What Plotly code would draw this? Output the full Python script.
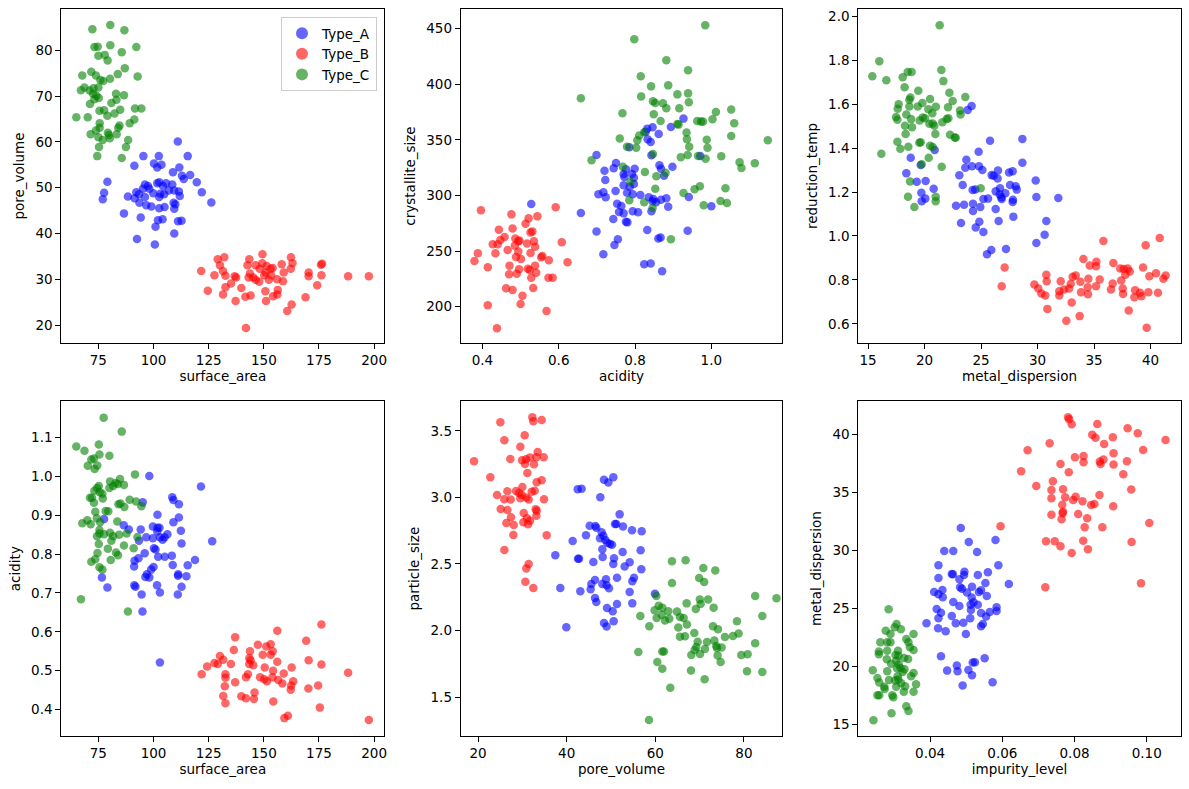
import plotly.graph_objects as go

W, H = 1189, 789

type_names = ['Type_A', 'Type_B', 'Type_C']
type_colors = ['blue', 'red', 'green']

# surface_area vs pore_volume
area_vol_a = [(111.0, 60.1), (95.4, 56.9), (102.4, 56.9), (115.5, 56.9), (91.3, 54.8), (100.2, 55.3), (101.7, 54.4),
              (103.6, 55.0), (111.7, 54.4), (112.9, 52.6), (108.8, 53.4), (116.6, 52.8), (113.7, 51.9), (119.6, 51.2),
              (79.1, 51.3), (121.9, 49.0), (126.2, 46.8), (77.6, 48.9), (77.0, 47.5), (88.4, 48.1), (92.2, 49.0),
              (91.4, 47.7), (93.6, 46.7), (96.1, 50.7), (97.5, 50.4), (95.2, 49.8), (93.4, 48.6), (96.1, 48.0),
              (99.9, 48.8), (98.1, 49.8), (101.7, 51.0), (102.6, 51.2), (104.3, 50.4), (105.7, 51.0), (108.5, 50.7),
              (106.9, 49.4), (109.4, 49.4), (111.5, 49.2), (103.1, 48.7), (104.8, 48.6), (102.6, 48.0), (111.9, 48.2),
              (96.7, 46.2), (99.0, 45.9), (102.6, 45.5), (105.0, 45.8), (109.1, 46.7), (109.9, 46.4), (109.4, 45.4),
              (86.6, 44.4), (94.2, 43.5), (102.0, 42.9), (104.1, 43.1), (111.1, 42.7), (112.7, 42.8), (100.9, 41.5),
              (109.4, 40.0), (92.5, 38.8), (100.6, 37.6)]
area_vol_b = [(129.1, 34.4), (132.1, 34.8), (130.1, 33.1), (121.6, 31.8), (127.6, 30.9), (131.5, 31.8), (132.6, 30.8),
              (136.8, 30.7), (137.4, 30.4), (124.6, 27.5), (132.6, 28.3), (131.5, 26.7), (135.1, 29.1), (137.2, 25.3),
              (143.4, 34.4), (142.6, 33.1), (143.7, 31.3), (143.1, 30.4), (145.2, 30.4), (146.3, 29.9), (139.8, 28.1),
              (141.6, 26.2), (144.0, 26.5), (141.9, 19.4), (146.3, 33.1), (149.3, 33.5), (149.4, 35.5), (148.1, 32.3),
              (150.8, 31.5), (151.3, 32.9), (153.1, 32.3), (154.0, 32.5), (153.3, 30.9), (150.2, 30.9), (147.9, 29.5),
              (152.3, 29.9), (150.7, 27.4), (151.0, 25.3), (154.2, 26.3), (156.3, 27.7), (156.1, 26.7), (158.1, 33.3),
              (159.0, 31.5), (158.7, 29.6), (156.0, 30.0), (162.3, 34.8), (163.0, 33.5), (162.2, 32.3), (162.6, 24.5),
              (160.6, 23.1), (168.9, 26.1), (170.3, 31.5), (170.3, 30.7), (175.9, 33.2), (176.4, 33.4), (176.1, 30.9),
              (174.2, 28.7), (188.2, 30.7), (197.6, 30.7)]
area_vol_c = [(72.3, 84.6), (80.4, 85.5), (86.8, 84.4), (73.2, 80.7), (74.7, 80.8), (80.4, 81.1), (92.2, 80.7),
              (85.6, 79.6), (75.0, 78.8), (77.9, 79.0), (79.2, 77.8), (67.7, 74.5), (71.8, 75.3), (73.9, 74.5),
              (87.0, 76.1), (83.8, 74.8), (92.8, 74.3), (75.9, 73.5), (77.2, 73.3), (80.3, 73.8), (68.7, 71.9),
              (67.1, 71.3), (71.0, 71.2), (72.8, 71.7), (75.0, 71.9), (72.6, 70.5), (74.1, 70.1), (75.2, 69.6),
              (73.2, 69.3), (71.2, 68.3), (83.0, 70.5), (86.6, 70.2), (83.2, 69.2), (80.9, 68.5), (91.6, 67.3),
              (94.5, 67.3), (75.5, 66.8), (77.6, 66.9), (84.9, 67.0), (82.3, 66.2), (79.1, 65.7), (65.0, 65.4),
              (70.2, 65.4), (91.3, 64.9), (89.2, 64.1), (75.6, 64.1), (84.6, 63.6), (84.0, 63.1), (75.6, 63.1),
              (73.9, 62.5), (71.5, 61.7), (79.3, 62.0), (79.8, 61.5), (83.3, 61.7), (75.0, 61.0), (77.0, 60.4),
              (80.2, 60.8), (88.5, 60.4), (75.3, 58.9), (87.5, 58.9), (74.5, 56.9), (85.6, 56.5)]

# acidity vs crystallite_size
acid_cryst_a = [(0.528, 292.3), (0.658, 284.2), (0.699, 336.4), (0.720, 322.3), (0.722, 313.9), (0.704, 301.0),
                (0.717, 302.8), (0.723, 298.3), (0.699, 267.7), (0.717, 247.1), (0.746, 255.5), (0.755, 260.6),
                (0.743, 278.8), (0.749, 304.0), (0.750, 329.2), (0.744, 324.4), (0.770, 319.3), (0.772, 316.6),
                (0.776, 323.5), (0.770, 309.1), (0.786, 307.9), (0.779, 302.5), (0.794, 301.0), (0.797, 310.3),
                (0.797, 316.0), (0.792, 319.3), (0.799, 324.1), (0.753, 292.6), (0.764, 290.5), (0.758, 285.1),
                (0.770, 283.9), (0.776, 276.4), (0.780, 275.8), (0.794, 285.7), (0.808, 284.8), (0.814, 300.4),
                (0.785, 343.3), (0.828, 357.4), (0.832, 360.1), (0.846, 361.3), (0.862, 355.3), (0.833, 350.5),
                (0.841, 348.1), (0.843, 336.1), (0.836, 298.3), (0.846, 294.7), (0.848, 296.8), (0.843, 285.7),
                (0.855, 293.8), (0.868, 296.2), (0.882, 297.5), (0.887, 289.9), (0.864, 327.1), (0.868, 324.1),
                (0.876, 317.8), (0.898, 325.9), (0.894, 361.6), (0.927, 369.1), (0.832, 268.9), (0.861, 261.2),
                (0.867, 262.1), (0.824, 238.1), (0.841, 238.9), (0.871, 231.8), (0.938, 268.3), (0.941, 298.6),
                (0.971, 335.5), (1.000, 290.2)]
acid_cryst_b = [(0.396, 286.6), (0.476, 283.0), (0.521, 279.4), (0.544, 281.2), (0.592, 289.3), (0.443, 269.2),
                (0.479, 270.4), (0.513, 274.6), (0.526, 266.8), (0.531, 267.7), (0.458, 262.7), (0.447, 260.0),
                (0.440, 256.1), (0.427, 256.1), (0.486, 261.2), (0.494, 258.8), (0.497, 259.4), (0.485, 254.9),
                (0.466, 251.0), (0.434, 248.0), (0.388, 248.0), (0.517, 256.9), (0.535, 258.8), (0.538, 253.9),
                (0.526, 248.3), (0.494, 249.5), (0.608, 257.9), (0.488, 244.7), (0.501, 242.9), (0.554, 244.4),
                (0.557, 245.6), (0.574, 241.7), (0.623, 239.9), (0.379, 241.1), (0.414, 235.4), (0.471, 236.9),
                (0.496, 233.6), (0.519, 234.2), (0.524, 233.0), (0.538, 236.9), (0.541, 230.6), (0.490, 229.7),
                (0.470, 229.1), (0.528, 226.1), (0.573, 226.1), (0.584, 226.1), (0.462, 216.5), (0.479, 215.0),
                (0.533, 216.8), (0.505, 209.9), (0.500, 202.4), (0.414, 201.2), (0.568, 196.1), (0.438, 180.5)]
acid_cryst_c = [(0.984, 453.0), (0.798, 440.4), (0.882, 421.5), (0.939, 412.5), (0.815, 407.1), (0.842, 398.1),
                (0.887, 399.0), (0.816, 389.1), (0.911, 390.9), (0.939, 391.8), (0.658, 387.4), (0.847, 384.8),
                (0.853, 383.2), (0.873, 382.9), (0.882, 378.4), (0.916, 378.4), (0.941, 383.8), (0.767, 373.9),
                (0.849, 373.0), (1.052, 377.2), (1.012, 375.1), (1.003, 368.5), (0.867, 367.0), (0.911, 364.3),
                (0.914, 363.7), (0.963, 367.0), (0.973, 366.4), (0.978, 366.4), (1.060, 364.9), (0.824, 356.9),
                (0.811, 353.9), (0.806, 349.7), (0.760, 351.2), (0.935, 356.6), (0.936, 350.6), (0.988, 350.2),
                (1.052, 353.5), (1.148, 349.6), (0.779, 343.9), (0.803, 343.0), (0.942, 343.9), (0.990, 343.0),
                (0.847, 337.3), (0.938, 336.4), (0.920, 334.3), (1.026, 335.2), (0.965, 335.5), (0.985, 333.1),
                (0.686, 331.6), (0.768, 325.9), (0.826, 321.1), (0.880, 320.5), (0.856, 317.2), (1.074, 329.8),
                (1.114, 328.9), (1.079, 324.7), (0.788, 312.4), (0.853, 306.1), (0.970, 308.2), (0.956, 305.5),
                (1.037, 306.4), (0.927, 302.2), (0.785, 295.6), (0.824, 293.8), (0.846, 288.7), (0.980, 291.1),
                (1.024, 295.0), (1.041, 293.2), (0.894, 260.6)]

# metal_dispersion vs reduction_temp
disp_red_a = [(24.17, 1.592), (23.82, 1.574), (28.66, 1.442), (25.80, 1.433), (24.79, 1.383), (23.70, 1.347),
              (18.78, 1.356), (19.66, 1.323), (20.90, 1.391), (28.66, 1.333), (23.61, 1.311), (24.20, 1.317),
              (24.82, 1.317), (23.08, 1.276), (25.94, 1.277), (26.12, 1.274), (26.50, 1.298), (26.47, 1.262),
              (25.12, 1.300), (27.48, 1.289), (27.80, 1.295), (18.39, 1.286), (19.31, 1.247), (20.10, 1.250),
              (29.84, 1.252), (23.38, 1.232), (27.57, 1.232), (28.07, 1.226), (28.16, 1.211), (24.26, 1.209),
              (24.50, 1.212), (26.30, 1.203), (26.68, 1.217), (27.15, 1.194), (26.65, 1.189), (26.80, 1.176),
              (26.83, 1.168), (20.81, 1.215), (19.72, 1.197), (20.07, 1.170), (19.75, 1.158), (29.90, 1.177),
              (31.84, 1.173), (27.83, 1.165), (27.80, 1.155), (25.21, 1.168), (25.62, 1.170), (22.79, 1.138),
              (23.50, 1.142), (24.29, 1.147), (24.94, 1.132), (24.29, 1.114), (26.30, 1.123), (23.23, 1.059),
              (24.85, 1.065), (26.56, 1.068), (30.78, 1.068), (24.53, 1.039), (25.21, 1.018), (27.86, 1.088),
              (30.63, 1.006), (29.90, 0.968), (27.21, 0.941), (25.91, 0.936), (25.53, 0.917)]
disp_red_b = [(35.83, 0.977), (40.81, 0.991), (39.57, 0.958), (36.71, 0.877), (34.06, 0.895), (35.21, 0.883),
              (34.62, 0.865), (35.18, 0.862), (27.09, 0.856), (37.32, 0.852), (37.63, 0.850), (37.98, 0.852),
              (38.16, 0.838), (39.34, 0.856), (37.77, 0.823), (32.05, 0.794), (33.11, 0.814), (33.38, 0.820),
              (30.78, 0.823), (30.81, 0.794), (33.79, 0.791), (34.50, 0.805), (35.50, 0.802), (37.40, 0.797),
              (40.49, 0.830), (39.90, 0.817), (41.34, 0.820), (41.14, 0.805), (29.72, 0.779), (30.07, 0.761),
              (30.34, 0.738), (30.69, 0.729), (31.93, 0.748), (31.93, 0.729), (32.35, 0.756), (32.94, 0.782),
              (32.79, 0.761), (34.44, 0.767), (33.85, 0.744), (34.47, 0.735), (35.18, 0.771), (36.50, 0.756),
              (36.65, 0.783), (37.54, 0.761), (37.57, 0.736), (38.63, 0.753), (38.57, 0.721), (39.07, 0.741),
              (39.19, 0.726), (39.81, 0.744), (40.66, 0.741), (33.02, 0.697), (30.87, 0.668), (38.07, 0.661),
              (33.73, 0.635), (32.55, 0.614), (39.66, 0.582), (26.83, 0.771)]
disp_red_c = [(21.34, 1.959), (16.00, 1.795), (15.38, 1.727), (16.62, 1.709), (18.07, 1.723), (18.51, 1.747),
              (18.86, 1.747), (21.49, 1.756), (21.67, 1.705), (18.24, 1.677), (19.45, 1.661), (22.20, 1.652),
              (22.49, 1.615), (23.61, 1.633), (18.75, 1.630), (18.66, 1.620), (17.71, 1.600), (18.66, 1.589),
              (19.40, 1.589), (19.81, 1.605), (20.49, 1.624), (20.34, 1.577), (21.00, 1.588), (20.69, 1.559),
              (22.08, 1.586), (17.63, 1.579), (23.14, 1.571), (23.19, 1.553), (17.48, 1.542), (17.60, 1.529),
              (18.39, 1.553), (18.81, 1.532), (19.84, 1.539), (20.04, 1.536), (19.57, 1.526), (21.96, 1.533),
              (22.11, 1.536), (21.58, 1.518), (20.43, 1.511), (20.87, 1.502), (20.72, 1.512), (18.27, 1.502),
              (18.89, 1.495), (18.33, 1.464), (20.96, 1.464), (22.26, 1.461), (22.67, 1.448), (22.76, 1.447),
              (17.60, 1.429), (19.54, 1.424), (19.66, 1.427), (18.57, 1.406), (17.86, 1.397), (20.49, 1.411),
              (20.72, 1.405), (16.18, 1.374), (20.37, 1.356), (19.75, 1.327), (21.52, 1.315), (18.72, 1.248),
              (24.97, 1.217), (18.54, 1.179), (20.99, 1.179), (20.99, 1.158), (19.10, 1.132)]

# surface_area vs acidity
area_acid_a = [(98.1, 1.001), (121.5, 0.974), (108.5, 0.946), (109.0, 0.939), (111.5, 0.928), (95.1, 0.933),
               (77.6, 0.890), (101.8, 0.901), (111.5, 0.894), (86.5, 0.874), (88.8, 0.863), (94.2, 0.863),
               (109.0, 0.882), (99.7, 0.871), (101.8, 0.868), (102.7, 0.868), (101.7, 0.858), (112.4, 0.860),
               (105.0, 0.843), (102.9, 0.843), (106.3, 0.851), (104.1, 0.837), (99.7, 0.841), (96.7, 0.843),
               (93.4, 0.834), (126.6, 0.833), (112.7, 0.827), (100.2, 0.815), (100.9, 0.812), (102.1, 0.793),
               (105.1, 0.793), (108.3, 0.796), (96.0, 0.802), (93.2, 0.789), (91.4, 0.783), (91.2, 0.768),
               (108.7, 0.772), (111.2, 0.748), (118.8, 0.785), (115.5, 0.771), (114.9, 0.743), (111.1, 0.744),
               (100.0, 0.767), (98.9, 0.760), (97.0, 0.748), (96.3, 0.741), (98.1, 0.740), (76.6, 0.740),
               (79.1, 0.714), (91.3, 0.720), (91.8, 0.716), (101.6, 0.720), (112.7, 0.716), (102.9, 0.701),
               (94.6, 0.696), (111.0, 0.696), (95.0, 0.652), (102.9, 0.521)]
area_acid_b = [(176.1, 0.619), (156.1, 0.603), (137.0, 0.586), (169.2, 0.577), (147.3, 0.567), (153.1, 0.568),
               (151.1, 0.562), (136.4, 0.553), (143.7, 0.550), (154.0, 0.550), (130.1, 0.538), (149.5, 0.541),
               (153.1, 0.541), (143.4, 0.532), (144.0, 0.527), (131.6, 0.528), (127.6, 0.520), (129.1, 0.517),
               (135.1, 0.517), (145.2, 0.514), (170.3, 0.527), (176.1, 0.516), (156.1, 0.523), (124.3, 0.511),
               (150.4, 0.508), (162.6, 0.508), (143.4, 0.517), (121.8, 0.491), (132.6, 0.491), (132.6, 0.482),
               (142.8, 0.491), (141.9, 0.483), (148.3, 0.483), (150.2, 0.478), (154.2, 0.500), (153.9, 0.483),
               (156.5, 0.476), (159.0, 0.493), (151.4, 0.473), (158.4, 0.467), (163.3, 0.473), (162.4, 0.462),
               (162.2, 0.451), (188.2, 0.495), (137.0, 0.470), (132.3, 0.460), (170.2, 0.454), (174.6, 0.462),
               (145.8, 0.444), (139.8, 0.434), (141.9, 0.429), (145.5, 0.427), (131.6, 0.435), (132.6, 0.416),
               (154.3, 0.421), (175.4, 0.405), (160.9, 0.384), (159.3, 0.378), (197.6, 0.373)]
area_acid_c = [(77.4, 1.151), (85.6, 1.115), (65.0, 1.077), (68.7, 1.066), (75.2, 1.082), (75.5, 1.056),
               (80.0, 1.053), (71.8, 1.043), (73.0, 1.046), (70.2, 1.027), (74.5, 1.028), (73.3, 1.019),
               (91.6, 1.005), (80.3, 0.987), (84.8, 0.993), (82.8, 0.983), (83.8, 0.980), (86.6, 0.978),
               (81.7, 0.975), (80.0, 0.970), (75.2, 0.975), (74.4, 0.970), (75.6, 0.959), (73.2, 0.963),
               (76.8, 0.955), (71.2, 0.945), (72.1, 0.945), (77.0, 0.943), (73.0, 0.932), (89.2, 0.940),
               (92.1, 0.935), (84.1, 0.928), (85.0, 0.930), (86.8, 0.921), (94.5, 0.923), (73.6, 0.909),
               (78.3, 0.911), (79.5, 0.910), (67.7, 0.879), (70.0, 0.887), (71.5, 0.877), (74.3, 0.892),
               (75.8, 0.882), (83.6, 0.884), (75.5, 0.862), (75.5, 0.853), (77.6, 0.851), (80.3, 0.855),
               (74.4, 0.846), (81.7, 0.846), (84.4, 0.850), (87.8, 0.853), (92.7, 0.844), (80.9, 0.834),
               (86.6, 0.822), (91.0, 0.815), (75.2, 0.826), (79.3, 0.814), (74.6, 0.803), (83.0, 0.804),
               (83.9, 0.797), (73.6, 0.787), (71.8, 0.780), (80.6, 0.785), (75.5, 0.766), (76.8, 0.760),
               (67.1, 0.684), (88.4, 0.652)]

# pore_volume vs particle_size
vol_part_a = [(50.53, 3.152), (48.42, 3.134), (49.40, 3.112), (42.48, 3.061), (43.38, 3.066), (47.59, 3.001),
              (51.95, 2.873), (50.90, 2.801), (51.20, 2.801), (52.71, 2.781), (54.74, 2.753), (56.92, 2.746),
              (45.19, 2.788), (46.47, 2.786), (46.69, 2.773), (47.89, 2.738), (44.36, 2.716), (47.52, 2.693),
              (48.27, 2.713), (48.72, 2.681), (49.17, 2.660), (49.77, 2.650), (50.23, 2.645), (41.35, 2.673),
              (48.05, 2.610), (56.69, 2.603), (37.44, 2.565), (52.63, 2.590), (48.12, 2.553), (42.56, 2.540),
              (42.78, 2.540), (50.68, 2.543), (46.02, 2.515), (50.53, 2.500), (54.21, 2.513), (53.08, 2.482),
              (56.84, 2.460), (55.19, 2.397), (51.35, 2.397), (54.81, 2.370), (46.39, 2.380), (45.56, 2.350),
              (48.87, 2.385), (48.05, 2.350), (49.02, 2.340), (49.55, 2.317), (38.57, 2.320), (43.08, 2.295),
              (45.41, 2.310), (54.21, 2.289), (46.39, 2.244), (46.69, 2.214), (54.81, 2.204), (51.35, 2.199),
              (49.10, 2.169), (50.38, 2.144), (48.42, 2.056), (50.60, 2.069), (49.02, 2.031), (39.92, 2.024),
              (59.92, 2.277)]
vol_part_b = [(32.26, 3.603), (34.36, 3.583), (32.48, 3.573), (25.04, 3.565), (30.53, 3.467), (25.94, 3.430),
              (29.55, 3.382), (33.46, 3.342), (27.29, 3.289), (19.10, 3.272), (29.92, 3.279), (30.83, 3.287),
              (31.73, 3.300), (33.16, 3.302), (34.81, 3.302), (30.60, 3.252), (32.63, 3.249), (31.13, 3.184),
              (22.78, 3.152), (34.36, 3.129), (33.23, 3.114), (30.00, 3.079), (32.11, 3.044), (32.78, 3.051),
              (26.62, 3.046), (24.29, 3.018), (28.57, 3.049), (29.25, 3.034), (29.85, 3.019), (30.90, 2.999),
              (31.43, 2.984), (29.55, 2.994), (27.37, 2.984), (25.94, 2.986), (34.89, 2.986), (25.11, 2.914),
              (26.62, 2.906), (33.01, 2.911), (33.23, 2.901), (30.30, 2.883), (33.16, 2.863), (31.05, 2.843),
              (27.44, 2.851), (30.23, 2.813), (26.39, 2.808), (31.28, 2.798), (31.73, 2.826), (28.05, 2.793),
              (27.97, 2.718), (35.49, 2.716), (25.94, 2.605), (31.43, 2.500), (30.90, 2.467), (30.68, 2.367),
              (32.48, 2.320)]
vol_part_c = [(63.76, 2.520), (66.84, 2.528), (70.83, 2.470), (73.53, 2.452), (63.76, 2.357), (69.89, 2.395),
              (71.02, 2.365), (60.23, 2.259), (70.03, 2.234), (71.91, 2.234), (82.53, 2.259), (87.34, 2.242),
              (60.77, 2.187), (67.07, 2.204), (70.23, 2.199), (73.16, 2.172), (59.85, 2.152), (61.58, 2.172),
              (62.93, 2.144), (64.89, 2.142), (65.56, 2.101), (66.39, 2.094), (61.43, 2.119), (60.30, 2.094),
              (62.18, 2.076), (63.16, 2.088), (56.62, 2.109), (69.14, 2.162), (58.65, 2.032), (65.19, 2.022),
              (67.14, 2.046), (65.56, 1.954), (66.69, 1.956), (68.80, 1.981), (73.01, 2.032), (74.14, 2.009),
              (78.42, 2.069), (78.80, 1.978), (77.52, 1.958), (75.71, 1.951), (69.55, 1.916), (71.65, 1.914),
              (73.31, 1.924), (73.76, 1.884), (74.96, 1.873), (73.91, 1.869), (69.25, 1.876), (68.87, 1.853),
              (70.08, 1.823), (71.20, 1.861), (82.53, 1.904), (56.17, 1.838), (61.58, 1.843), (61.95, 1.843),
              (68.12, 1.816), (74.06, 1.813), (79.40, 1.816), (80.83, 1.821), (74.74, 1.763), (60.45, 1.763),
              (61.58, 1.713), (68.05, 1.700), (71.13, 1.633), (80.68, 1.693), (84.14, 1.688), (84.14, 2.109),
              (63.38, 1.570), (58.57, 1.327)]

# impurity_level vs metal_dispersion
imp_disp_a = [(0.0485, 31.93), (0.0507, 30.73), (0.0581, 30.90), (0.0439, 29.95), (0.0464, 29.95), (0.0530, 29.87),
              (0.0423, 28.72), (0.0589, 28.72), (0.0460, 27.97), (0.0463, 27.94), (0.0495, 28.17), (0.0494, 27.89),
              (0.0532, 27.89), (0.0560, 28.12), (0.0423, 27.63), (0.0481, 27.51), (0.0553, 27.20), (0.0618, 27.11),
              (0.0483, 26.83), (0.0488, 26.71), (0.0516, 26.88), (0.0411, 26.42), (0.0434, 26.60), (0.0423, 26.22),
              (0.0435, 25.96), (0.0502, 26.37), (0.0535, 26.42), (0.0541, 26.57), (0.0557, 26.08), (0.0515, 25.94),
              (0.0520, 25.53), (0.0464, 25.56), (0.0512, 25.33), (0.0532, 25.33), (0.0481, 25.22), (0.0584, 25.10),
              (0.0418, 24.96), (0.0430, 24.64), (0.0513, 24.87), (0.0541, 24.62), (0.0565, 24.70), (0.0584, 24.79),
              (0.0423, 24.16), (0.0511, 24.16), (0.0460, 24.36), (0.0555, 24.30), (0.0390, 23.73), (0.0471, 23.73),
              (0.0492, 23.78), (0.0541, 23.47), (0.0546, 23.67), (0.0422, 23.30), (0.0443, 23.04), (0.0499, 22.81),
              (0.0430, 20.88), (0.0551, 20.71), (0.0474, 20.08), (0.0447, 19.65), (0.0476, 19.59), (0.0518, 20.34),
              (0.0524, 20.37), (0.0506, 19.71), (0.0516, 19.25), (0.0490, 18.36), (0.0573, 18.65)]
imp_disp_b = [(0.0782, 41.46), (0.0785, 41.29), (0.0792, 40.86), (0.0863, 40.89), (0.0947, 40.52), (0.0975, 40.09),
              (0.0849, 39.97), (0.0858, 39.71), (0.0906, 39.74), (0.1052, 39.51), (0.0731, 39.23), (0.0882, 39.17),
              (0.0670, 38.62), (0.0990, 38.65), (0.0908, 38.36), (0.0825, 38.13), (0.0801, 38.02), (0.0880, 37.82),
              (0.0870, 37.65), (0.0872, 37.45), (0.0825, 37.59), (0.0761, 37.45), (0.0908, 37.39), (0.0945, 37.68),
              (0.0652, 36.81), (0.0784, 36.73), (0.0935, 36.56), (0.0740, 35.95), (0.0694, 35.55), (0.0736, 35.21),
              (0.0768, 35.26), (0.0957, 35.24), (0.0803, 34.63), (0.0869, 34.78), (0.0736, 34.49), (0.0774, 34.58),
              (0.0796, 34.35), (0.0822, 34.23), (0.0907, 33.80), (0.0766, 33.94), (0.0846, 33.92), (0.0855, 34.00),
              (0.0768, 33.34), (0.0767, 33.20), (0.0736, 33.08), (0.0810, 33.14), (0.0764, 32.68), (0.0835, 32.77),
              (0.1007, 32.37), (0.0595, 32.08), (0.0828, 31.99), (0.0877, 31.99), (0.0721, 30.79), (0.0745, 30.79),
              (0.0824, 30.84), (0.0958, 30.73), (0.0761, 30.36), (0.0837, 30.10), (0.0792, 29.78), (0.0719, 26.83),
              (0.0984, 27.17)]
imp_disp_c = [(0.0285, 24.93), (0.0307, 23.67), (0.0302, 23.38), (0.0277, 23.09), (0.0319, 23.21), (0.0290, 22.81),
              (0.0354, 22.81), (0.0334, 22.38), (0.0340, 22.09), (0.0262, 22.09), (0.0281, 22.09), (0.0290, 22.09),
              (0.0311, 21.37), (0.0344, 21.66), (0.0354, 21.43), (0.0258, 21.29), (0.0258, 21.06), (0.0281, 21.37),
              (0.0304, 21.00), (0.0312, 20.94), (0.0328, 20.74), (0.0339, 20.65), (0.0280, 20.63), (0.0292, 20.25),
              (0.0306, 20.51), (0.0313, 20.17), (0.0308, 19.85), (0.0318, 19.88), (0.0329, 19.76), (0.0324, 19.54),
              (0.0281, 19.59), (0.0241, 19.68), (0.0354, 19.45), (0.0347, 19.16), (0.0310, 19.16), (0.0254, 19.02),
              (0.0259, 18.62), (0.0286, 18.85), (0.0303, 18.79), (0.0312, 18.88), (0.0320, 18.56), (0.0306, 18.27),
              (0.0361, 18.47), (0.0331, 18.30), (0.0273, 18.27), (0.0274, 18.07), (0.0327, 17.84), (0.0354, 17.84),
              (0.0254, 17.53), (0.0259, 17.53), (0.0295, 17.53), (0.0298, 17.35), (0.0334, 16.58), (0.0340, 16.18),
              (0.0293, 15.98), (0.0243, 15.37)]

# x_label, y_label, data per type, x range, y range, x ticks, y ticks, x fmt, y fmt, pixel box (l, t, r, b)
panels = [
    ('surface_area', 'pore_volume', [area_vol_a, area_vol_b, area_vol_c], [58.2, 204.6], [16.17, 88.95],
     [75, 100, 125, 150, 175, 200], [20, 30, 40, 50, 60, 70, 80], '', '', (61.3, 9.3, 384.3, 342.7)),
    ('acidity', 'crystallite_size', [acid_cryst_a, acid_cryst_b, acid_cryst_c], [0.343, 1.186], [167.6, 467.4],
     [0.4, 0.6, 0.8, 1.0], [200, 250, 300, 350, 400, 450], '.1f', '', (460.7, 9.3, 782.3, 342.7)),
    ('metal_dispersion', 'reduction_temp', [disp_red_a, disp_red_b, disp_red_c], [14.14, 42.67], [0.514, 2.032],
     [15, 20, 25, 30, 35, 40], [0.6, 0.8, 1.0, 1.2, 1.4, 1.6, 1.8, 2.0], '', '.1f', (858.3, 9.3, 1180.7, 342.7)),
    ('surface_area', 'acidity', [area_acid_a, area_acid_b, area_acid_c], [58.2, 204.6], [0.332, 1.193],
     [75, 100, 125, 150, 175, 200], [0.4, 0.5, 0.6, 0.7, 0.8, 0.9, 1.0, 1.1], '', '.1f', (61.3, 401.3, 384.3, 736.0)),
    ('pore_volume', 'particle_size', [vol_part_a, vol_part_b, vol_part_c], [16.09, 88.65], [1.207, 3.723],
     [20, 40, 60, 80], [1.5, 2.0, 2.5, 3.0, 3.5], '', '.1f', (460.7, 401.3, 782.3, 736.0)),
    ('impurity_level', 'metal_dispersion', [imp_disp_a, imp_disp_b, imp_disp_c], [0.0201, 0.1094], [14.02, 42.84],
     [0.04, 0.06, 0.08, 0.10], [15, 20, 25, 30, 35, 40], '.2f', '', (858.3, 401.3, 1180.7, 736.0)),
]

font_family = 'DejaVu Sans'
fig = go.Figure()
layout = {}

for i, (xl, yl, groups, xr, yr, xt, yt, xf, yf, box) in enumerate(panels):
    n = i + 1
    sfx = '' if n == 1 else str(n)
    for k, pts in enumerate(groups):
        fig.add_trace(go.Scatter(
            x=[p[0] for p in pts], y=[p[1] for p in pts],
            mode='markers', name=type_names[k],
            legendgroup=type_names[k], showlegend=(n == 1),
            marker=dict(color=type_colors[k], size=8.5, opacity=0.6, line=dict(width=0)),
            xaxis='x' + sfx, yaxis='y' + sfx,
        ))
    l, t, r, b = box
    common = dict(showline=True, linecolor='black', linewidth=1, mirror=True,
                  ticks='outside', ticklen=5, tickwidth=1, tickcolor='black',
                  showgrid=False, zeroline=False, automargin=False,
                  tickfont=dict(family=font_family, size=13.5, color='black'))
    layout['xaxis' + sfx] = dict(domain=[l / W, r / W], range=xr, tickvals=xt, tickformat=xf,
                                 anchor='y' + sfx,
                                 title=dict(text=xl, standoff=4, font=dict(family=font_family, size=13.5, color='black')),
                                 **common)
    layout['yaxis' + sfx] = dict(domain=[1 - b / H, 1 - t / H], range=yr, tickvals=yt, tickformat=yf,
                                 anchor='x' + sfx,
                                 title=dict(text=yl, standoff=7, font=dict(family=font_family, size=13.5, color='black')),
                                 **common)

fig.update_layout(**layout)
fig.update_layout(
    width=W, height=H,
    margin=dict(l=0, r=0, t=0, b=0),
    paper_bgcolor='white', plot_bgcolor='white',
    font=dict(family=font_family, size=13.5, color='black'),
    legend=dict(x=377 / W, y=1 - 17 / H, xanchor='right', yanchor='top',
                bgcolor='rgba(255,255,255,0.8)', bordercolor='#cccccc', borderwidth=1,
                font=dict(family=font_family, size=13.5, color='black'),
                itemsizing='constant', tracegroupgap=0),
)

# drop the page's default body margin so the figure sits at the window corner
fig.write_html("out.html", config={'displayModeBar': False},
               post_script="document.body.style.margin='0';")
